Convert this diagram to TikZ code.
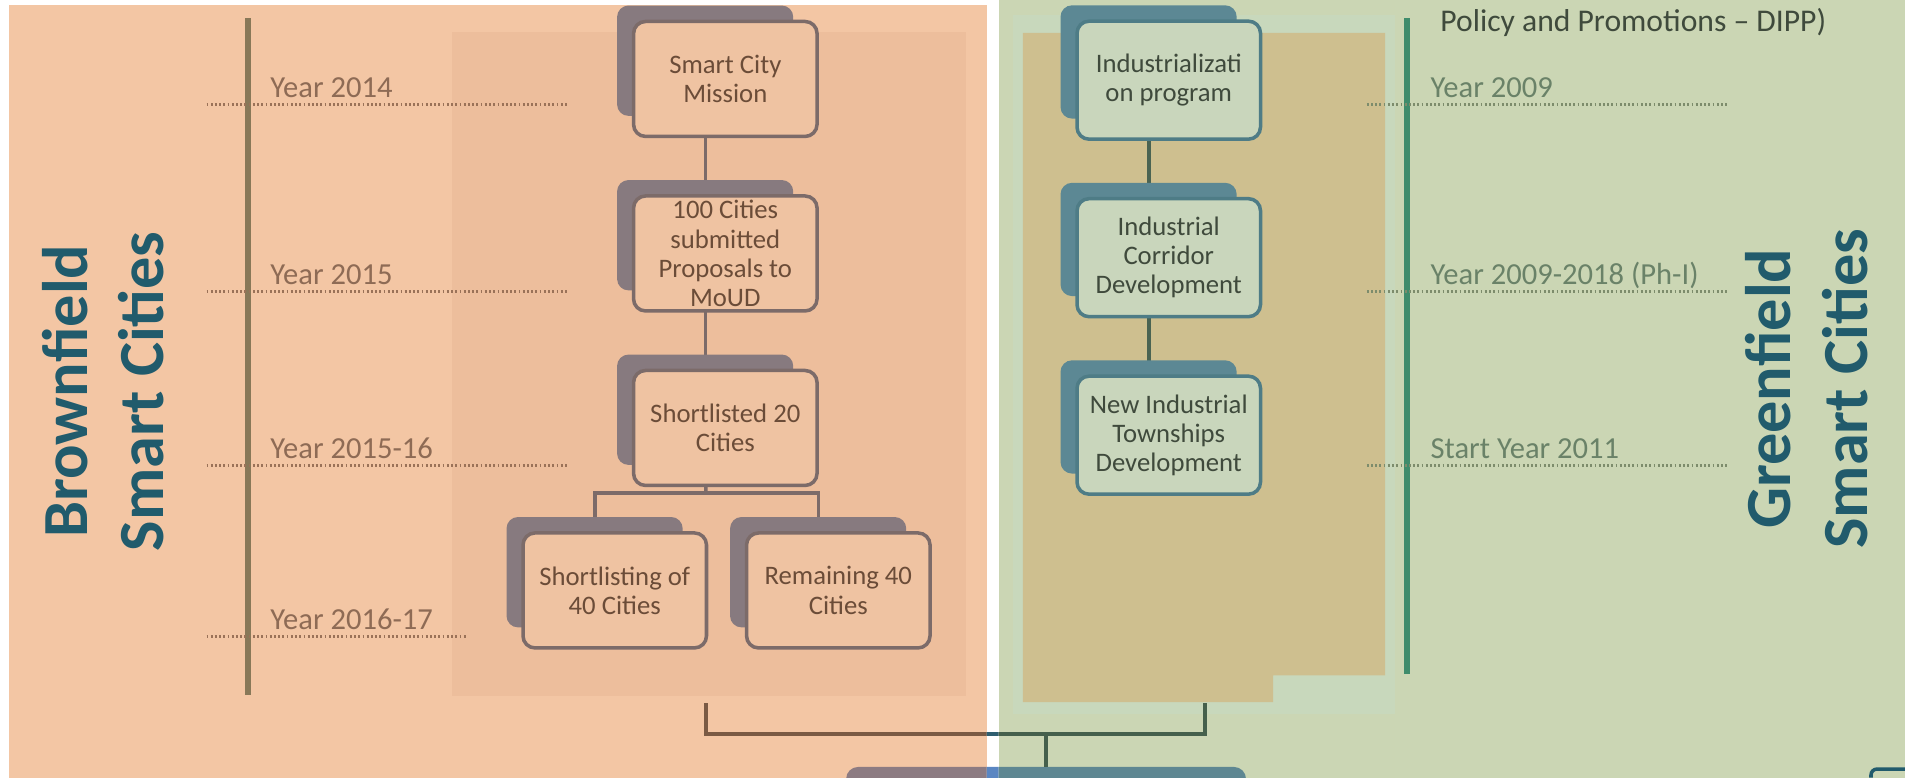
\documentclass[tikz,border=0pt]{standalone}
\usepackage{fontspec}
\setmainfont{Carlito}
\usetikzlibrary{positioning,shadows}

\definecolor{bfield}{HTML}{F3C6A4}
\definecolor{bfieldin}{HTML}{EDBE9C}
\definecolor{gfield}{HTML}{CBD6B4}
\definecolor{gfieldin}{HTML}{C8D8BC}
\definecolor{khakibox}{HTML}{CEBF8F}
\definecolor{mauveback}{HTML}{877A7F}
\definecolor{mauveedge}{HTML}{7C6B69}
\definecolor{peachcard}{HTML}{EFC3A2}
\definecolor{brnbarc}{HTML}{887858}
\definecolor{brntext}{HTML}{6B4C38}
\definecolor{brnyear}{HTML}{8E6B55}
\definecolor{brndot}{HTML}{9A7258}
\definecolor{tealback}{HTML}{5C8894}
\definecolor{tealedge}{HTML}{4E7C86}
\definecolor{sagecard}{HTML}{C9D6BC}
\definecolor{grnlinkc}{HTML}{4A6352}
\definecolor{grnbarc}{HTML}{3F8C6C}
\definecolor{grntext}{HTML}{3F4A3C}
\definecolor{grnyear}{HTML}{6A8268}
\definecolor{grndot}{HTML}{7D8C6C}
\definecolor{titleblue}{HTML}{215B6C}
\definecolor{gapblue}{HTML}{5A86C2}
\definecolor{gapline}{HTML}{2E5E70}
\definecolor{brnconn}{HTML}{7A5A44}
\definecolor{grnconn}{HTML}{45604C}
\definecolor{mergeteal}{HTML}{5E8792}
\definecolor{mergemauve}{HTML}{8C7B82}

\pgfdeclarelayer{panels}
\pgfdeclarelayer{links}
\pgfsetlayers{panels,links,main}

\begin{document}
\begin{tikzpicture}[
x=0.1215mm, y=-0.1215mm,
node distance=5.6mm,
every node/.style={inner sep=0pt},
card/.style={draw, rounded corners=1.2mm, line width=1pt, minimum width=18.35mm, align=center, font=\fontsize{7.6}{8.3}\selectfont},
brncard/.style={card, fill=peachcard, draw=mauveedge, text=brntext, minimum height=11.5mm,
  copy shadow={shadow xshift=-2.1mm, shadow yshift=1.9mm, shadow scale=0.96, fill=mauveback, draw=none}},
grncard/.style={card, fill=sagecard, draw=tealedge, text=grntext, minimum height=11.8mm,
  copy shadow={shadow xshift=-2.1mm, shadow yshift=1.9mm, shadow scale=0.96, fill=tealback, draw=none}},
brnlink/.style={draw=mauveedge, line width=1pt},
grnlink/.style={draw=grnlinkc, line width=1pt},
brndotted/.style={draw=brndot, line width=0.9pt, dash pattern=on 0.5pt off 0.7pt},
grndotted/.style={draw=grndot, line width=0.9pt, dash pattern=on 0.5pt off 0.7pt},
brnlbl/.style={anchor=base west, text=brnyear, font=\fontsize{8.7}{10}\selectfont},
grnlbl/.style={anchor=base west, text=grnyear, font=\fontsize{8.7}{10}\selectfont},
sidetitle/.style={rotate=90, align=center, text=titleblue, font=\fontsize{18.3}{21.7}\selectfont\bfseries},
mergebox/.style={minimum width=39.85mm, minimum height=11.7mm}
]
\useasboundingbox (0,0) rectangle (1568,640);

% panels
\begin{pgfonlayer}{panels}
\fill[white] (0,0) rectangle (1568,640);
\fill[bfield] (7,4) rectangle (812,640);
\fill[gfield] (822,0) rectangle (1568,640);
\fill[bfieldin] (372,26) rectangle (795,573);
\fill[gfieldin] (834,12) rectangle (1148,588);
\fill[khakibox] (842,27) -- (1140,27) -- (1140,556) -- (1048,556) -- (1048,578) -- (842,578) -- cycle;
\end{pgfonlayer}

% timelines
\draw[draw=brnbarc, line width=1.7pt] (204,15) -- (204,572);
\foreach \y in {86,240,383} \draw[brndotted] (170,\y) -- (467,\y);
\draw[brndotted] (170,524) -- (385,524);
\node[brnlbl] (y2014) at (222,80) {Year 2014};
\node[brnlbl] (y2015) at (222,234) {Year 2015};
\node[brnlbl] (y2016) at (222,377) {Year 2015-16};
\node[brnlbl] (y2017) at (222,518) {Year 2016-17};

\draw[draw=grnbarc, line width=1.7pt] (1158,15) -- (1158,555);
\foreach \y in {86,240,383} \draw[grndotted] (1125,\y) -- (1422,\y);
\node[grnlbl] (y2009) at (1177,80) {Year 2009};
\node[grnlbl] (yph1) at (1177,234) {Year 2009-2018 (Ph-I)};
\node[grnlbl] (y2011) at (1177,377) {Start Year 2011};
\node[anchor=base west, text=grntext, font=\fontsize{9}{10}\selectfont] (dipp) at (1185,26) {Policy and Promotions -- DIPP)};

% brownfield column
\node[brncard] (smc) at (597,65) {Smart City\\Mission};
\node[brncard, below=of smc] (hcc) {100 Cities\\submitted\\Proposals to\\MoUD};
\node[brncard, below=of hcc] (s20) {Shortlisted 20\\Cities};
\node[brncard] (s40) at (506,486) {Shortlisting of\\40 Cities};
\node[brncard] (r40) at (690,486) {Remaining 40\\Cities};

% greenfield column
\node[grncard] (ind) at (962,66) {Industrializati\\on program};
\node[grncard, below=of ind] (icd) {Industrial\\Corridor\\Development};
\node[grncard, below=of icd] (nit) {New Industrial\\Townships\\Development};

\coordinate (fork) at (581,406);
\begin{pgfonlayer}{links}
\draw[brnlink] ([xshift=-2mm]smc.center) -- ([xshift=-2mm]hcc.center);
\draw[brnlink] ([xshift=-2mm]hcc.center) -- ([xshift=-2mm]s20.center);
\draw[brnlink] ([xshift=-2mm]s20.center) -- (fork);
\draw[brnlink] ([xshift=-2mm]s40.center) |- (fork) -| ([xshift=-2mm]r40.center);
\draw[grnlink] ([xshift=-2mm]ind.center) -- ([xshift=-2mm]icd.center) -- ([xshift=-2mm]nit.center);
\end{pgfonlayer}

% joining both sides
\coordinate (bfoot) at (581,579);
\coordinate (gfoot) at (992,579);
\coordinate (join) at (861,604);
\node[mergebox] (merge) at (861,680) {};
\foreach \xa/\xb/\lc/\bc in {0/812/brnconn/mergemauve, 812/822/gapline/gapblue, 822/1568/grnconn/mergeteal}{
  \begin{scope}
    \clip (\xa,560) rectangle (\xb,640);
    \fill[\bc, rounded corners=1.2mm] (merge.south west) rectangle (merge.north east);
    \draw[draw=\lc, line width=1pt] (bfoot) |- (join) -| (gfoot) (join) -- (merge.north);
  \end{scope}
}
\draw[draw=titleblue, line width=1pt, rounded corners=0.6mm] (1540,640) -- (1540,633) -- (1580,633);

% side titles
\node[sidetitle] (bftitle) at (85,322) {Brownfield\\Smart Cities};
\node[sidetitle] (gftitle) at (1487,320) {Greenfield\\Smart Cities};
\end{tikzpicture}
\end{document}
